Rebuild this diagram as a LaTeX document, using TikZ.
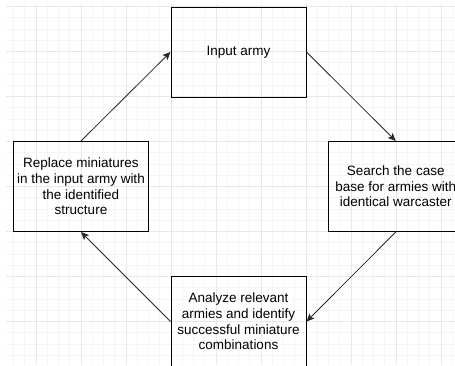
\documentclass[tikz,border=0pt]{standalone}
\usepackage{fontspec}
\setmainfont{Liberation Sans}
\usetikzlibrary{arrows.meta}
\definecolor{gridminor}{HTML}{F5F5F5}
\definecolor{gridmajor}{HTML}{E8E8E8}
\begin{document}
\begin{tikzpicture}[x=1pt,y=-1pt,
  stepbox/.style={draw=black, line width=1pt, minimum width=135pt, minimum height=90pt,
    inner sep=0pt, align=center, font=\fontsize{13.5}{15.6}\selectfont, text=black},
  flow/.style={draw=black!85, line width=0.8pt, -{Stealth[length=8pt,width=7pt,inset=2pt]}}]
\clip (0,0) rectangle (455,365);
\fill[white] (0,0) rectangle (455,365);
% background grid
\begin{scope}
  \clip (6,4) rectangle (455,365);
  \foreach \i in {-1,...,40} {
    \draw[gridminor, line width=0.8pt] ({2.25+11.25*\i},0) -- ({2.25+11.25*\i},365);
  }
  \foreach \i in {-1,...,33} {
    \draw[gridminor, line width=0.8pt] (0,{6.5+11.25*\i}) -- (455,{6.5+11.25*\i});
  }
  \foreach \i in {-1,...,10} {
    \draw[gridmajor, line width=0.9pt] ({36+45*\i},0) -- ({36+45*\i},365);
  }
  \foreach \i in {0,...,8} {
    \draw[gridmajor, line width=0.9pt] (0,{6.5+45*\i}) -- (455,{6.5+45*\i});
  }
\end{scope}
% process steps
\node[stepbox] (input) at (238.5,52) {Input army};
\node[stepbox] (search) at (395.75,186.5) {Search the case\\base for armies with\\identical warcaster};
\node[stepbox] (analyze) at (238.5,321.5) {Analyze relevant\\armies and identify\\successful miniature\\combinations};
\node[stepbox] (replace) at (81,186.5) {Replace miniatures\\in the input army with\\the identified\\structure};
% cycle connectors
\draw[flow] (input.east) -- (search.north);
\draw[flow] (search.south) -- (analyze.east);
\draw[flow] (analyze.west) -- (replace.south);
\draw[flow] (replace.north) -- (input.west);
\end{tikzpicture}
\end{document}
